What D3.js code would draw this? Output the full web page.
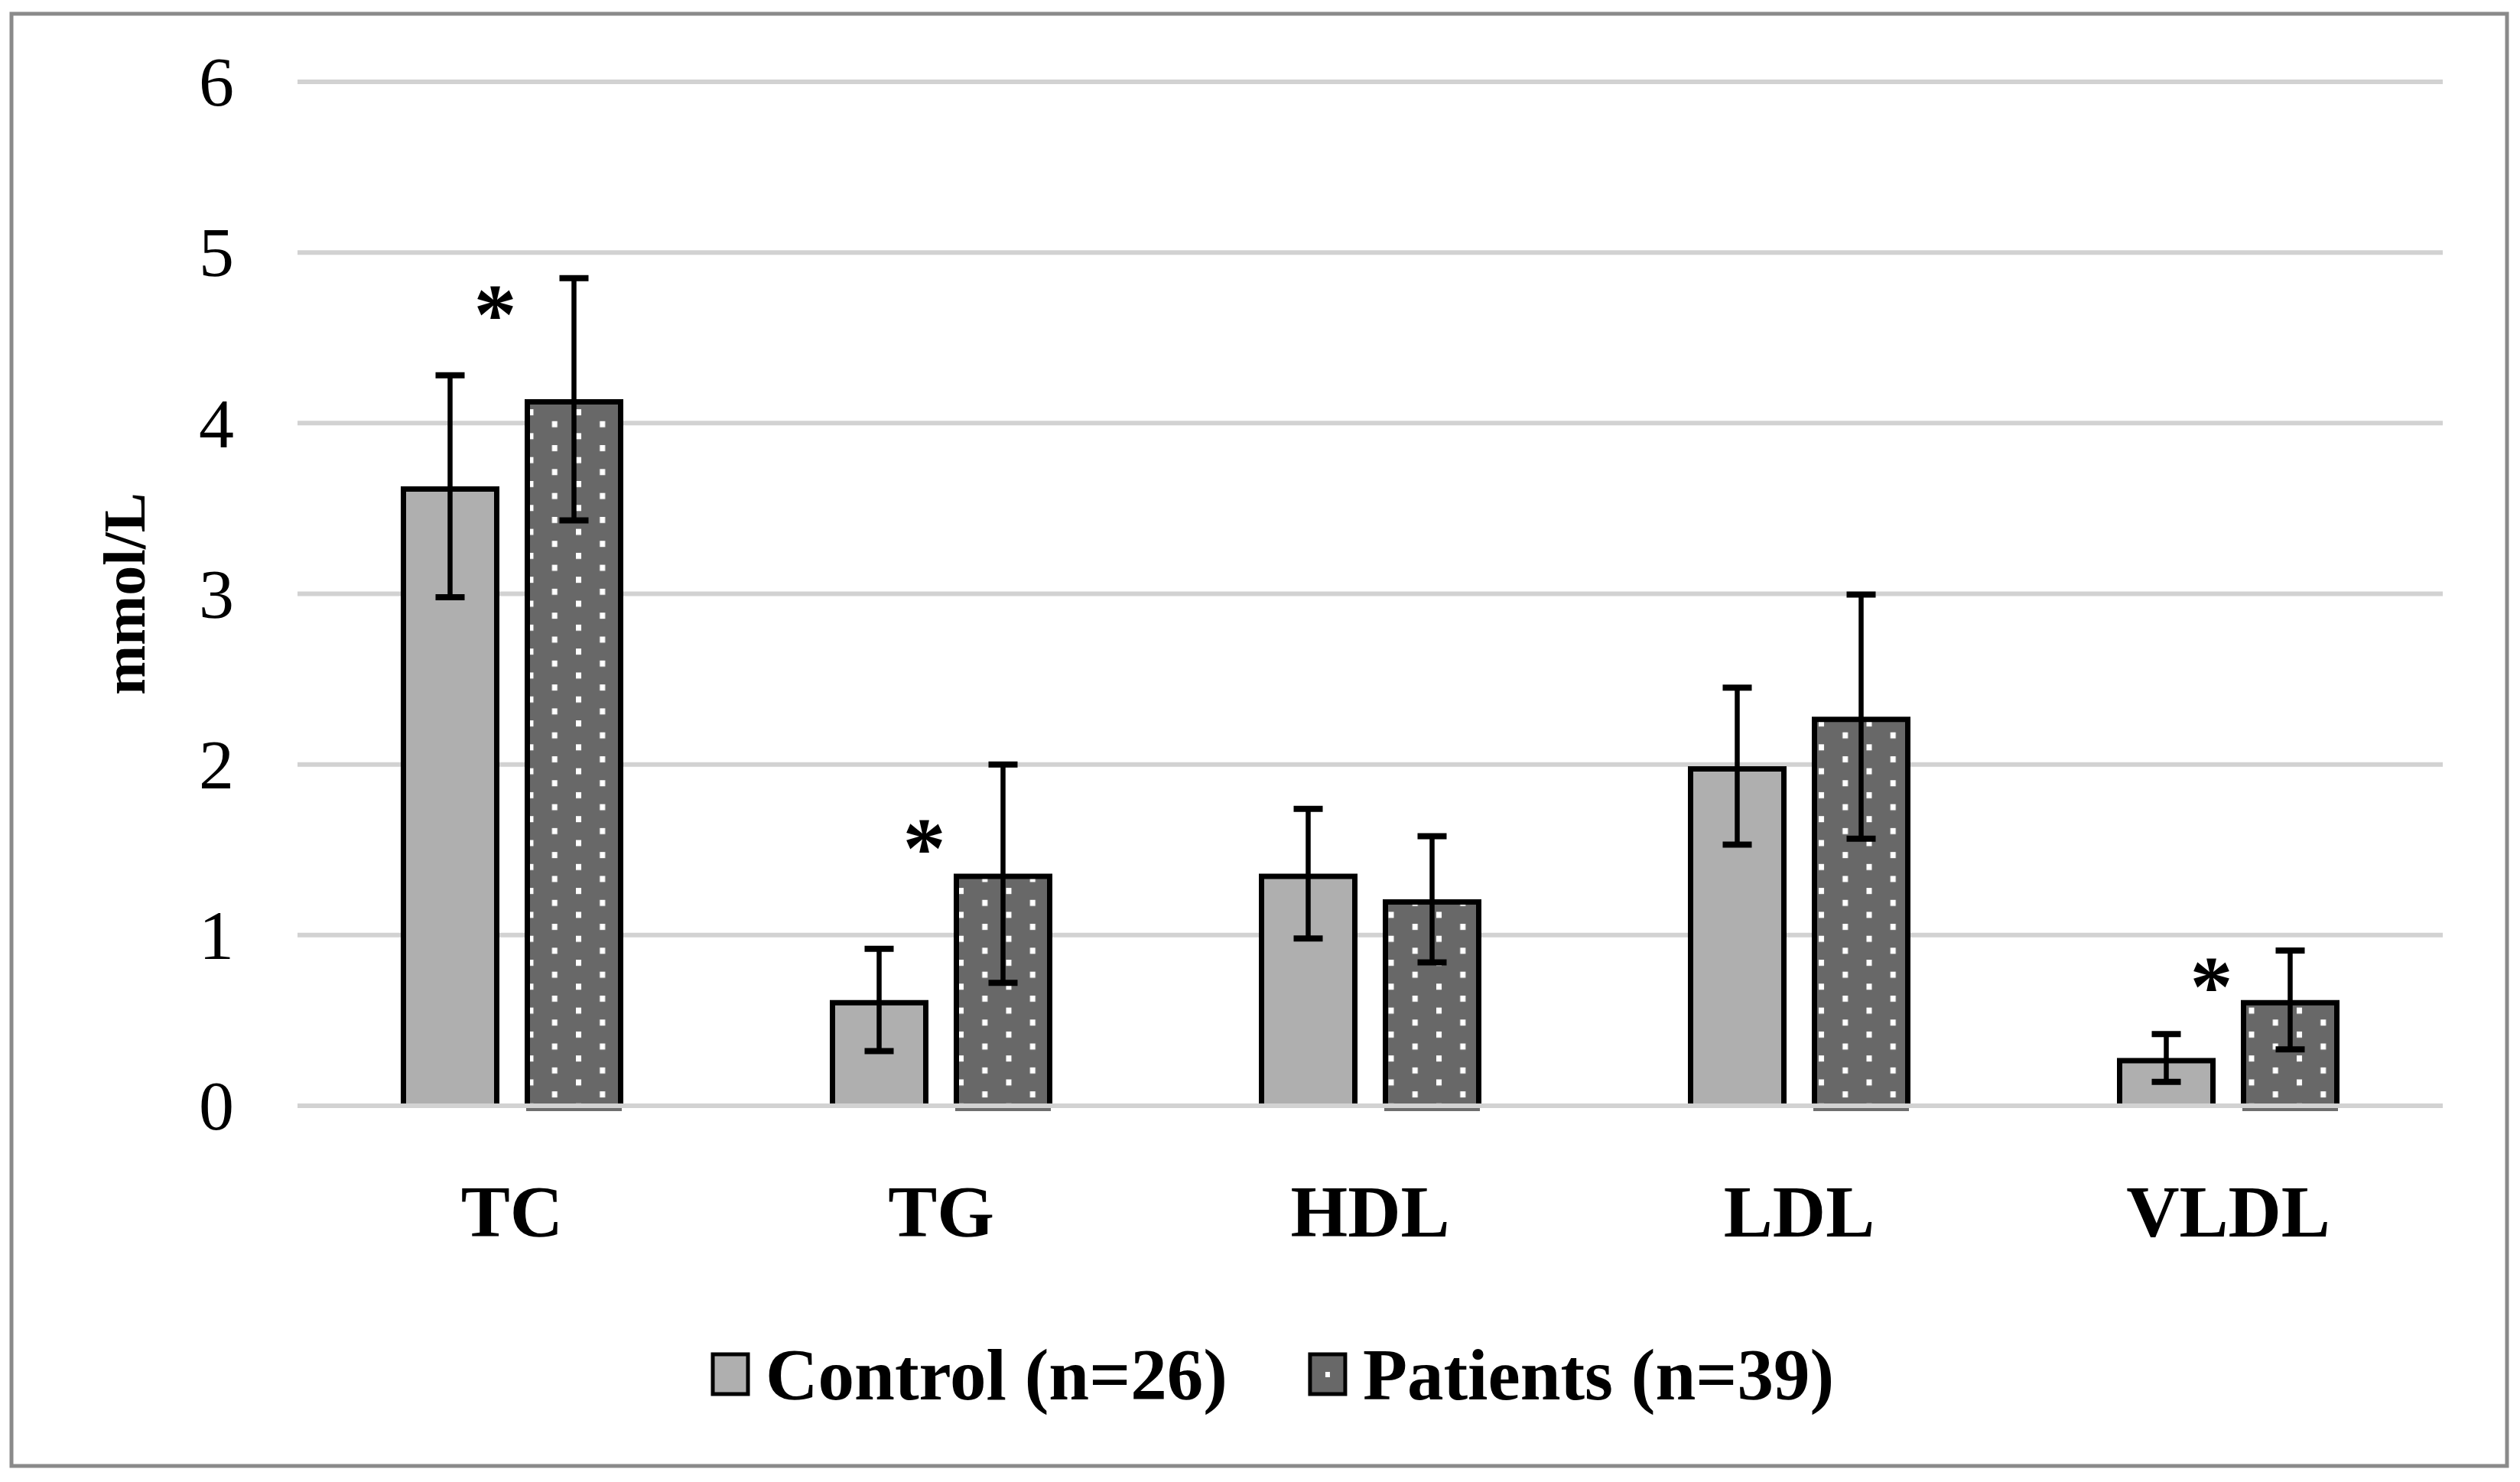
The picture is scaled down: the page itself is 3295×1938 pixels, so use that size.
<!DOCTYPE html>
<html>
<head>
<meta charset="utf-8">
<script src="https://cdn.jsdelivr.net/npm/d3@7.9.0/dist/d3.min.js"></script>
<style>
  body { margin: 0; background: #fff; }
  svg { display: block; font-family: 'Liberation Serif', 'Times New Roman', serif; }
</style>
</head>
<body>
<div id="chart"></div>
<script>
// data
const categories = ['TC', 'TG', 'HDL', 'LDL', 'VLDL'];
const seriesNames = ['Control (n=26)', 'Patients (n=39)'];
const controlMean = [3.63, 0.62, 1.36, 1.99, 0.28];
const controlSD = [0.65, 0.30, 0.38, 0.46, 0.14];
const patientMean = [4.14, 1.36, 1.21, 2.28, 0.62];
const patientSD = [0.71, 0.64, 0.37, 0.715, 0.29];
const sigCategories = ['TC', 'TG', 'VLDL'];
const sigY = [4.72, 1.59, 0.78];
const yTicks = [0, 1, 2, 3, 4, 5, 6];

const width = 3295;
const height = 1938;
const plot = { left: 389, right: 3194, top: 107, bottom: 1446 };

const rows = categories.map((c, i) => [
  { cat: c, series: 0, mean: controlMean[i], sd: controlSD[i] },
  { cat: c, series: 1, mean: patientMean[i], sd: patientSD[i] },
]).flat();

const svg = d3.select('#chart').append('svg')
  .attr('width', width)
  .attr('height', height);

svg.append('rect')
  .attr('width', width).attr('height', height)
  .attr('fill', '#fff');

// dotted fill for patients
const defs = svg.append('defs');
const pat = defs.append('pattern')
  .attr('id', 'dots')
  .attr('patternUnits', 'userSpaceOnUse')
  .attr('x', 3).attr('y', 3)
  .attr('width', 62.5).attr('height', 31.3);
pat.append('rect').attr('width', 62.5).attr('height', 31.3).attr('fill', '#686868');
pat.append('rect').attr('x', 0).attr('y', 0).attr('width', 7).attr('height', 8).attr('fill', '#fff');
pat.append('rect').attr('x', 31.25).attr('y', 15.65).attr('width', 7).attr('height', 8).attr('fill', '#fff');

const fills = ['#afafaf', 'url(#dots)'];

// outer frame
svg.append('rect')
  .attr('x', 15).attr('y', 18)
  .attr('width', 3263).attr('height', 1899)
  .attr('fill', 'none')
  .attr('stroke', '#8a8a8a')
  .attr('stroke-width', 5);

const x = d3.scaleBand()
  .domain(categories)
  .range([plot.left, plot.right]);

const groupWidth = 291;
const x1 = d3.scaleBand()
  .domain([0, 1])
  .range([0, groupWidth])
  .paddingInner(0.2037);

const y = d3.scaleLinear()
  .domain([0, 6])
  .range([plot.bottom, plot.top]);

const groupLeft = c => x(c) + (x.bandwidth() - groupWidth) / 2;

// gridlines (all but zero, which is drawn over the bars)
svg.append('g')
  .selectAll('line')
  .data(yTicks.filter(d => d > 0))
  .join('line')
  .attr('x1', plot.left).attr('x2', plot.right)
  .attr('y1', d => y(d)).attr('y2', d => y(d))
  .attr('stroke', '#d2d2d2')
  .attr('stroke-width', 6);

// tick labels
svg.append('g')
  .selectAll('text')
  .data(yTicks)
  .join('text')
  .attr('x', 306)
  .attr('y', d => y(d))
  .attr('dy', '0.34em')
  .attr('text-anchor', 'end')
  .attr('font-size', 92)
  .attr('fill', '#000')
  .text(d => d);

// bars (open at the bottom)
const sw = 7;
svg.append('g')
  .selectAll('path')
  .data(rows)
  .join('path')
  .attr('d', d => {
    const x0 = groupLeft(d.cat) + x1(d.series) + sw / 2;
    const x2 = x0 + x1.bandwidth() - sw;
    const yt = y(d.mean) + sw / 2;
    const yb = y(0);
    return `M${x0},${yb}V${yt}H${x2}V${yb}Z`;
  })
  .attr('fill', d => fills[d.series])
  .attr('stroke', 'none');

svg.append('g')
  .selectAll('path')
  .data(rows)
  .join('path')
  .attr('d', d => {
    const x0 = groupLeft(d.cat) + x1(d.series) + sw / 2;
    const x2 = x0 + x1.bandwidth() - sw;
    const yt = y(d.mean) + sw / 2;
    const yb = y(0);
    return `M${x0},${yb}V${yt}H${x2}V${yb}`;
  })
  .attr('fill', 'none')
  .attr('stroke', '#000')
  .attr('stroke-width', sw);

// dark edge under the patient bars
svg.append('g')
  .selectAll('line')
  .data(rows.filter(d => d.series === 1))
  .join('line')
  .attr('x1', d => groupLeft(d.cat) + x1(1) + 2)
  .attr('x2', d => groupLeft(d.cat) + x1(1) + x1.bandwidth() - 2)
  .attr('y1', y(0) + 5).attr('y2', y(0) + 5)
  .attr('stroke', '#6e6e6e')
  .attr('stroke-width', 4);

// zero line over bar bottoms
svg.append('line')
  .attr('x1', plot.left).attr('x2', plot.right)
  .attr('y1', y(0)).attr('y2', y(0))
  .attr('stroke', '#d2d2d2')
  .attr('stroke-width', 6);

// error bars
const eb = svg.append('g').attr('stroke', '#000');
rows.forEach(d => {
  const cx = groupLeft(d.cat) + x1(d.series) + x1.bandwidth() / 2;
  eb.append('line')
    .attr('x1', cx).attr('x2', cx)
    .attr('y1', y(d.mean - d.sd)).attr('y2', y(d.mean + d.sd))
    .attr('stroke-width', 6.5);
  [d.mean - d.sd, d.mean + d.sd].forEach(v => {
    eb.append('line')
      .attr('x1', cx - 19).attr('x2', cx + 19)
      .attr('y1', y(v)).attr('y2', y(v))
      .attr('stroke-width', 8);
  });
});

// significance marks
svg.append('g')
  .selectAll('text')
  .data(sigCategories)
  .join('text')
  .attr('x', d => x(d) + x.bandwidth() / 2 - 22)
  .attr('y', (d, i) => y(sigY[i]))
  .attr('dy', '0.5em')
  .attr('text-anchor', 'middle')
  .attr('font-size', 112)
  .attr('font-weight', 'bold')
  .text('*');

// category labels
svg.append('g')
  .selectAll('text')
  .data(categories)
  .join('text')
  .attr('x', d => x(d) + x.bandwidth() / 2)
  .attr('y', 1617)
  .attr('text-anchor', 'middle')
  .attr('font-size', 96)
  .attr('font-weight', 'bold')
  .text(d => d);

// y axis title
svg.append('text')
  .attr('transform', `translate(189, ${(plot.top + plot.bottom) / 2}) rotate(-90)`)
  .attr('text-anchor', 'middle')
  .attr('font-size', 78)
  .attr('font-weight', 'bold')
  .text('mmol/L');

// legend
const legend = svg.append('g');
let lx = 932;
seriesNames.forEach((name, i) => {
  legend.append('rect')
    .attr('x', lx).attr('y', 1771)
    .attr('width', 46).attr('height', 52)
    .attr('fill', i === 0 ? '#afafaf' : '#686868')
    .attr('stroke', '#000')
    .attr('stroke-width', 5);
  if (i === 1) {
    legend.append('rect')
      .attr('x', lx + 20).attr('y', 1794)
      .attr('width', 6).attr('height', 7)
      .attr('fill', '#fff');
  }
  const t = legend.append('text')
    .attr('x', lx + 69).attr('y', 1830)
    .attr('font-size', 95)
    .attr('font-weight', 'bold')
    .text(name);
  lx = lx + 69 + t.node().getComputedTextLength() + 108;
});
</script>
</body>
</html>
